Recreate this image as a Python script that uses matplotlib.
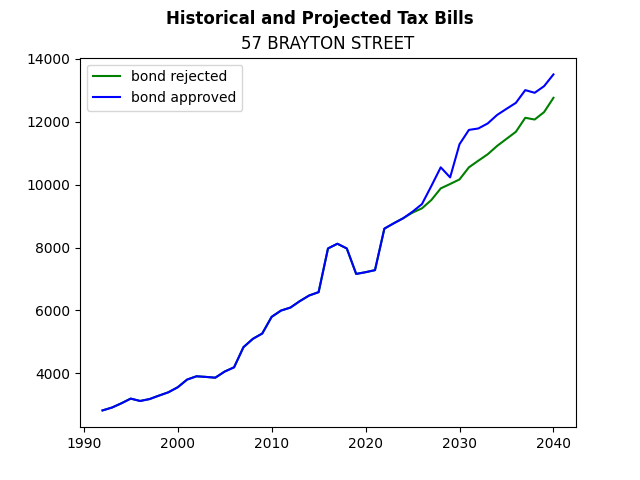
import matplotlib
matplotlib.use("Agg")
import matplotlib.pyplot as plt

years = list(range(1992, 2041))

# history shared by both scenarios, 1992-2024
history = [2820, 2910, 3045, 3195, 3120, 3180, 3290, 3395, 3555, 3800,
           3905, 3885, 3860, 4055, 4190, 4830, 5095, 5265, 5795, 5995,
           6090, 6295, 6475, 6580, 7970, 8120, 7970, 7160, 7215, 7280,
           8600, 8770, 8930]

# projections 2025-2040
proj_rejected = [9110, 9245, 9510, 9880, 10020, 10165, 10550, 10760,
                 10965, 11230, 11455, 11680, 12125, 12070, 12305, 12760]
proj_approved = [9140, 9380, 9955, 10550, 10230, 11285, 11740, 11785,
                 11945, 12215, 12410, 12600, 13005, 12920, 13130, 13505]

rejected = history + proj_rejected
approved = history + proj_approved

fig, ax = plt.subplots(figsize=(6.4, 4.8), dpi=100)
ax.plot(years, rejected, color="green", label="bond rejected")
ax.plot(years, approved, color="blue", label="bond approved")

fig.suptitle("Historical and Projected Tax Bills", fontweight="bold")
ax.set_title("57 BRAYTON STREET")
ax.legend(loc="upper left")

fig.savefig("out.png")
